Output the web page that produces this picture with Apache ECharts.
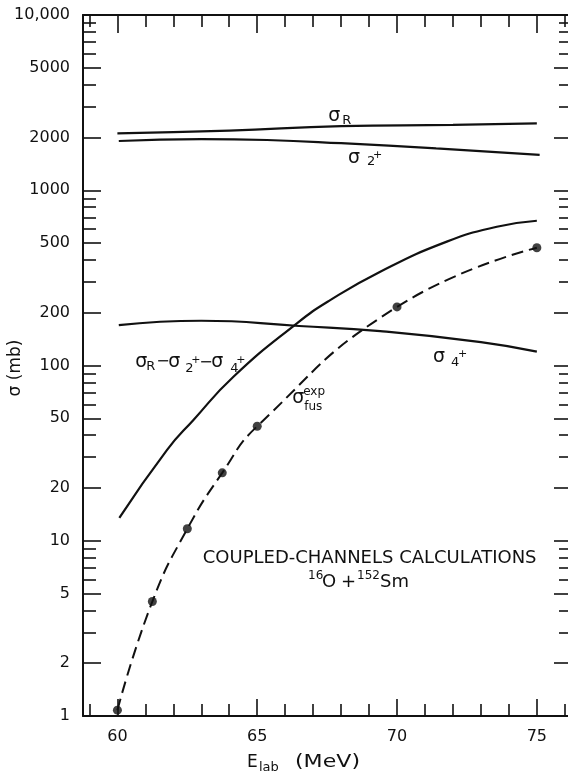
<!DOCTYPE html>
<html>
<head>
<meta charset="utf-8">
<script src="https://cdn.jsdelivr.net/npm/echarts@6/dist/echarts.min.js"></script>
<style>
  html, body { margin: 0; padding: 0; background: #fff; }
  #chart { width: 568px; height: 772px; }
</style>
</head>
<body>
<div id="chart"></div>
<script>
// Laboratory energy (MeV) and cross section (mb) along each curve
const eReaction = [60.0, 64.0, 68.0, 72.0, 75.0];
const sigmaReaction = [2110, 2190, 2320, 2360, 2410];

const eTwoPlus = [60.05, 63.0, 65.35, 68.0, 71.4, 75.1];
const sigmaTwoPlus = [1910, 1960, 1935, 1855, 1735, 1590];

const eFourPlus = [60.05, 63.0, 66.5, 69.4, 73.0, 75.0];
const sigmaFourPlus = [170, 180, 168, 157, 136, 120];

const eRemainder = [60.07, 61.77, 62.72, 64.15, 66.42, 67.61, 69.40, 71.78, 73.57, 75.0];
const sigmaRemainder = [13.5, 32.9, 48.9, 86.3, 174, 236, 343, 509, 619, 670];

const eFusionExp = [60.0, 61.25, 62.5, 63.75, 65.0, 70.0, 75.0];
const sigmaFusionExp = [1.08, 4.5, 11.7, 24.4, 45, 216, 470];

// Tick values
const xLabelTicks = [60, 65, 70, 75];
const xPlainTicks = [59, 61, 62, 63, 64, 66, 67, 68, 69, 71, 72, 73, 74, 76];
const yLabelTicks = [1, 2, 5, 10, 20, 50, 100, 200, 500, 1000, 2000, 5000, 10000];
const yDecades = [1, 10, 100, 1000];
const yMantissas = [3, 4, 6, 7, 8, 9];
const yPlainTicks = [];
yDecades.forEach(d => yMantissas.forEach(m => yPlainTicks.push(m * d)));

const FONT = 'DejaVu Sans';
const INK = '#111';

const pairs = (xs, ys) => xs.map((x, i) => [x, ys[i]]);

const xRange = { min: 58.77, max: 76.15 };
const yRange = { min: 1, max: 10000 };

function xAxisDef(position, lineShow, len, ticks, labelShow) {
  return {
    type: 'value', position, ...xRange,
    axisLine: { show: lineShow, lineStyle: { color: INK, width: 2 } },
    axisTick: { show: true, inside: true, length: len, customValues: ticks,
                lineStyle: { color: INK, width: 1.6 } },
    axisLabel: labelShow
      ? { show: true, customValues: ticks, margin: 13, fontSize: 16,
          fontFamily: FONT, color: INK }
      : { show: false },
    splitLine: { show: false }
  };
}

function yAxisDef(position, lineShow, len, ticks, labelShow) {
  return {
    type: 'log', logBase: 10, position, ...yRange,
    axisLine: { show: lineShow, lineStyle: { color: INK, width: 2 } },
    axisTick: { show: true, inside: true, length: len, customValues: ticks,
                lineStyle: { color: INK, width: 1.6 } },
    axisLabel: labelShow
      ? { show: true, customValues: ticks, margin: 13, fontSize: 16,
          fontFamily: FONT, color: INK,
          formatter: v => { const r = Math.round(v); return r === 10000 ? '10,000' : String(r); } }
      : { show: false },
    splitLine: { show: false },
    minorTick: { show: false }
  };
}

const lineSeries = (name, xs, ys) => ({
  name, type: 'line', xAxisIndex: 0, yAxisIndex: 0,
  data: pairs(xs, ys), smooth: true, symbol: 'none',
  lineStyle: { color: INK, width: 2.2 }, z: 5
});

const option = {
  animation: false,
  backgroundColor: '#fff',
  grid: { left: 83, top: 15, width: 486, height: 701, containLabel: false,
          outerBoundsMode: 'none' },
  xAxis: [
    xAxisDef('bottom', true, 17, xLabelTicks, true),
    xAxisDef('bottom', false, 12, xPlainTicks, false),
    xAxisDef('top', true, 18, xLabelTicks, false),
    xAxisDef('top', false, 12, xPlainTicks, false)
  ],
  yAxis: [
    yAxisDef('left', true, 18, yLabelTicks, true),
    yAxisDef('left', false, 13, yPlainTicks, false),
    yAxisDef('right', false, 15, yLabelTicks, false),
    yAxisDef('right', false, 10, yPlainTicks, false)
  ],
  series: [
    lineSeries('σR', eReaction, sigmaReaction),
    lineSeries('σ2+', eTwoPlus, sigmaTwoPlus),
    lineSeries('σ4+', eFourPlus, sigmaFourPlus),
    lineSeries('σR-σ2+-σ4+', eRemainder, sigmaRemainder),
    {
      name: 'σfus exp curve', type: 'line', xAxisIndex: 0, yAxisIndex: 0,
      data: pairs(eFusionExp, sigmaFusionExp), smooth: true, symbol: 'none',
      lineStyle: { color: INK, width: 2, type: [12, 6] }, z: 5
    },
    {
      name: 'σfus exp', type: 'scatter', xAxisIndex: 0, yAxisIndex: 0,
      data: pairs(eFusionExp, sigmaFusionExp), symbol: 'circle', symbolSize: 9,
      itemStyle: { color: INK }, z: 6
    }
  ]
};

const chart = echarts.init(document.getElementById('chart'), null, { renderer: 'canvas' });
chart.setOption(option);

// Text pieces (base glyphs, sub- and superscripts) anchored at data coordinates
function piece(t, dx, dy, size, align, scaleX) {
  return {
    type: 'text', x: dx, y: dy, scaleX: scaleX || 1,
    style: { text: t, fontSize: size, fontFamily: FONT, fill: INK,
             align: align || 'left', verticalAlign: 'middle' }
  };
}
function textGroup(anchor, parts, align) {
  const p = chart.convertToPixel({ xAxisIndex: 0, yAxisIndex: 0 }, anchor);
  return {
    type: 'group', x: p[0], y: p[1], silent: true,
    children: parts.map(([t, dx, dy, size]) => piece(t, dx, dy, size, align))
  };
}

const S = 19, SUB = 13, SUP = 11;
const annotations = [
  textGroup([67.54, 2650], [['σ', 0, 0, S], ['R', 14, 5, SUB]]),
  textGroup([68.25, 1528], [['σ', 0, 0, S], ['2', 19, 4, SUB], ['+', 25, -3, SUP]]),
  textGroup([71.29, 112], [['σ', 0, 0, S], ['4', 18, 6, SUB], ['+', 25, -3, SUP]]),
  textGroup([60.64, 105], [
    ['σ', 0, 0, S], ['R', 11, 5, SUB], ['−', 21, 0, 16],
    ['σ', 33, 0, S], ['2', 50, 7, SUB], ['+', 56, -2, SUP], ['−', 64, 1, 16],
    ['σ', 76, 0, S], ['4', 95, 7, SUB], ['+', 101, -2, SUP]
  ]),
  textGroup([66.25, 65.3], [['σ', 0, 0, S], ['exp', 11, -6, 12], ['fus', 12, 9, 12]]),
  textGroup([69.02, 7.97], [['COUPLED-CHANNELS CALCULATIONS', 0, 0, 18]], 'center'),
  textGroup([66.82, 5.82], [
    ['16', 0, -6, 12], ['O', 14, 0, 18], ['+', 33, 0, 18],
    ['152', 49, -6, 12], ['Sm', 72, 0, 18]
  ])
];

// Axis titles
const axisTitles = [
  {
    type: 'group', x: 247, y: 763, silent: true,
    children: [
      piece('E', 0, 0, 17),
      piece('lab', 12, 5, 13),
      piece('(MeV)', 48, 0, 17, 'left', 1.3)
    ]
  },
  {
    type: 'group', x: 16, y: 368, rotation: Math.PI / 2, silent: true,
    children: [piece('σ (mb)', 0, 0, 17, 'center')]
  }
];

chart.setOption({ graphic: annotations.concat(axisTitles) });
</script>
</body>
</html>
